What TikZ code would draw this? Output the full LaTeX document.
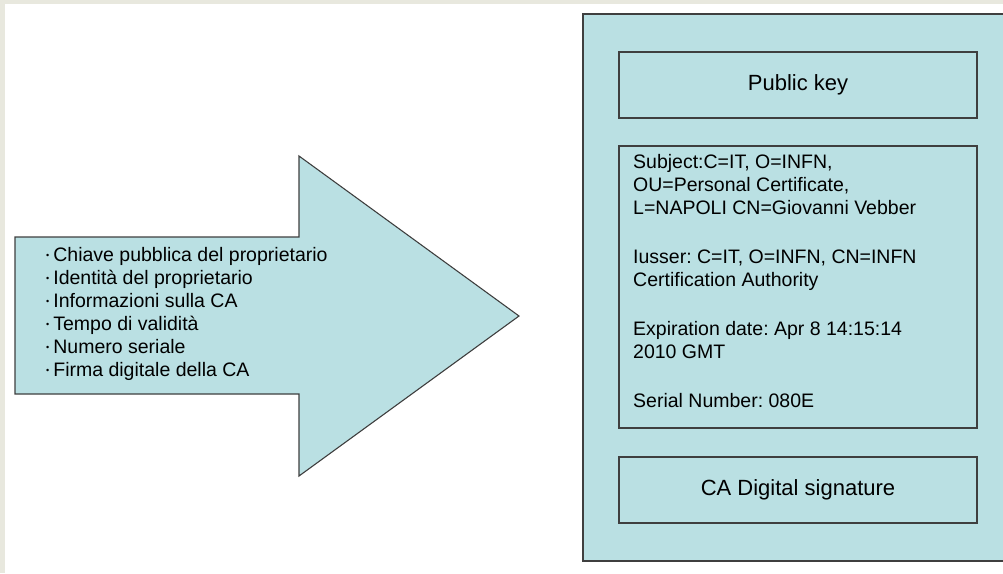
\documentclass[tikz,border=0pt]{standalone}
\usepackage{fontspec}
\setmainfont{Liberation Sans}
\frenchspacing
\definecolor{certfill}{HTML}{BAE0E3}
\definecolor{certline}{HTML}{3F3F3F}
\definecolor{slidebg}{HTML}{E8E8DE}
\newcommand{\itembullet}{\raisebox{0.3ex}{\small\textbullet}\hspace{4pt}}
\begin{document}
\begin{tikzpicture}[x=1pt,y=-1pt,
    every node/.style={font=\fontsize{19.5}{23}\selectfont},
    panel/.style={draw=certline,fill=certfill,line width=1.1pt},
    field/.style={draw=certline,line width=1.1pt,minimum width=358pt,inner sep=0pt,
      font=\fontsize{22}{26}\selectfont}]

    % background of the slide
    \fill[slidebg] (0,0) rectangle (1003,573);
    \fill[white] (5,4) rectangle (1003,573);
    \useasboundingbox (0,0) rectangle (1003,573);

    % big arrow with the list
    \draw[panel,line join=miter] (15,237) -- (299,237) -- (299,156) -- (519,316)
      -- (299,476) -- (299,394) -- (15,394) -- cycle;
    \node[anchor=west,align=left,inner sep=0pt] (list) at (46,314)
      {\itembullet Chiave pubblica del proprietario\\
       \itembullet Identità del proprietario\\
       \itembullet Informazioni sulla CA\\
       \itembullet Tempo di validità\\
       \itembullet Numero seriale\\
       \itembullet Firma digitale della CA};

    % the certificate
    \draw[panel] (583,14) rectangle (1008,561);
    \node[field,minimum height=66pt] (pubkey) at (798,85) {Public key};
    \node[field,minimum height=282pt] (data) at (798,287) {};
    \node[anchor=north west,align=left,inner sep=0pt] (datatext) at (633,154)
      {Subject:C=IT, O=INFN,\\
       OU=Personal Certificate,\\
       L=NAPOLI CN=Giovanni Vebber\\[26pt]
       Iusser: C=IT, O=INFN, CN=INFN\\
       Certification Authority\\[26pt]
       Expiration date: Apr 8 14:15:14\\
       2010 GMT\\[26pt]
       Serial Number: 080E};
    \node[field,minimum height=66pt] (sign) at (798,490) {CA Digital signature};
  \end{tikzpicture}
\end{document}
